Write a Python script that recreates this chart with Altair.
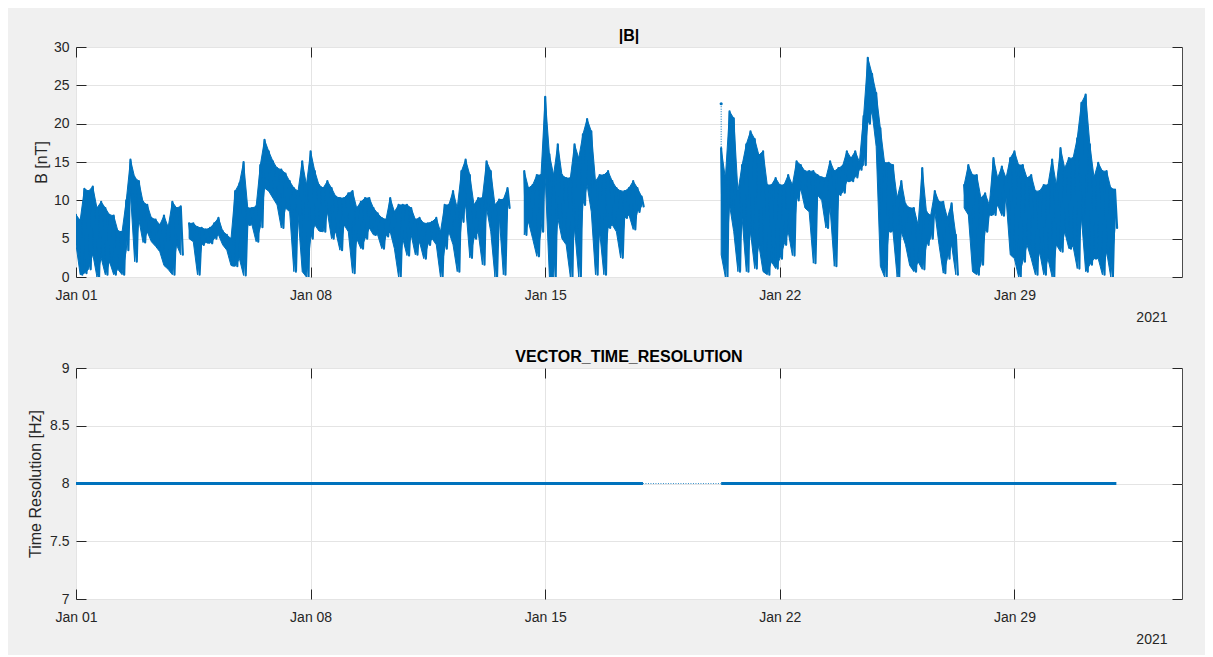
import altair as alt
import pandas as pd

BLUE = "#0072BD"
FONT = "Liberation Sans"
AX = "#262626"

# ---------------- data ----------------
# |B| envelope (upper / lower) every 3 hours starting 2021-01-01 00:00, one row per day
B_HI = [
    [8.1, 7.4, 11.5, 11.2, 11.8, 9.0, 9.8, 9.0],        # Jan 01
    [8.1, 8.0, 6.0, 5.9, 10.0, 15.3, 13.0, 12.5],       # Jan 02
    [9.8, 9.4, 7.7, 7.5, 6.8, 8.0, 6.5, 9.8],           # Jan 03
    [9.0, 9.2, None, 7.0, 7.0, 6.5, 6.4, 6.2],          # Jan 04
    [6.4, 7.0, 7.7, 6.0, 5.5, 5.0, 11.2, 12.2],         # Jan 05
    [15.0, 9.0, 9.0, 9.2, 14.6, 17.9, 16.4, 15.1],      # Jan 06
    [14.2, 14.0, 13.5, 12.5, 11.6, 11.2, 15.1, 12.0],   # Jan 07
    [16.4, 13.8, 12.0, 11.6, 12.5, 11.6, 10.5, 10.3],   # Jan 08
    [10.3, 10.9, 11.2, 9.0, 9.8, 10.3, 10.3, 9.0],      # Jan 09
    [8.3, 7.7, 7.5, 10.3, 8.5, 9.4, 9.4, 9.4],          # Jan 10
    [9.0, 7.5, 7.7, 7.0, 7.0, 7.2, 7.7, 5.9],           # Jan 11
    [9.4, 9.4, 11.2, 9.0, 13.8, 15.3, 13.3, 9.4],       # Jan 12
    [10.3, 10.3, 15.1, 13.8, 9.4, 10.1, 10.1, 11.6],    # Jan 13
    [None, None, None, 13.8, 11.6, 12.0, 13.3, 13.3],   # Jan 14
    [23.5, 16.0, 13.3, 17.3, 13.3, 12.9, 12.9, 17.3],   # Jan 15
    [15.5, 18.6, 20.6, 19.0, 12.5, 13.3, 13.3, 13.8],   # Jan 16
    [12.5, 11.6, 11.2, 11.2, 11.6, 12.5, 11.6, 10.5],   # Jan 17
    [None] * 8,                                         # Jan 18
    [None] * 8,                                         # Jan 19
    [None, None, 16.8, 12.9, 21.6, 20.7, 11.2, 14.6],   # Jan 20
    [17.3, 19.0, 18.0, 15.9, 16.4, 12.0, 12.0, 12.9],   # Jan 21
    [12.0, 12.0, 13.3, 12.0, 15.1, 14.6, 13.8, 13.8],   # Jan 22
    [13.8, 13.3, 13.0, 12.9, 15.1, 13.8, 14.2, 14.5],   # Jan 23
    [16.4, 15.5, 16.4, 15.0, 21.0, 28.6, 26.5, 24.0],   # Jan 24
    [19.4, 14.9, 14.9, 14.6, 10.3, 12.5, 9.5, 9.0],     # Jan 25
    [9.0, 6.8, 14.2, 8.5, 8.0, 11.2, 9.8, 9.8],         # Jan 26
    [7.7, 9.6, 5.5, None, 12.0, 14.6, 13.3, 13.3],      # Jan 27
    [10.3, 10.9, 9.4, 15.5, 12.9, 14.4, 12.9, 15.5],    # Jan 28
    [16.4, 14.6, 14.6, 12.9, 13.3, 11.2, 11.2, 12.0],   # Jan 29
    [12.0, 15.3, 12.0, 16.8, 14.2, 15.5, 15.5, 18.1],   # Jan 30
    [22.7, 23.8, 17.3, 13.0, 14.9, 13.8, 13.8, 11.6],   # Jan 31
    [11.4],                                             # Feb 01
]
B_LO = [
    [4.2, 0.3, 0.5, 1.0, 3.0, 0.0, 2.5, 0.3],
    [2.0, 0.3, 1.0, 0.3, 3.5, 11.0, 2.0, 7.5],
    [4.5, 5.9, 4.6, 4.0, 3.3, 1.5, 1.0, 0.3],
    [4.2, 2.9, None, 5.0, 4.6, 0.3, 4.2, 4.5],
    [4.4, 5.0, 5.5, 4.2, 3.5, 1.5, 1.4, 2.4],
    [0.2, 6.8, 6.8, 4.6, 6.5, 11.6, 11.2, 10.3],
    [9.4, 6.4, 9.0, 8.5, 0.7, 8.1, 0.7, 0.0],
    [5.0, 6.8, 6.0, 5.9, 8.5, 5.0, 5.9, 3.5],
    [6.8, 5.9, 0.5, 5.0, 3.7, 5.0, 6.4, 5.5],
    [5.5, 3.7, 5.3, 5.9, 3.7, 0.0, 5.0, 2.8],
    [5.5, 2.9, 4.6, 2.4, 4.2, 5.0, 4.2, 0.0],
    [3.7, 5.9, 4.2, 0.7, 7.2, 9.4, 2.5, 5.0],
    [5.9, 1.6, 9.0, 5.9, 0.0, 8.1, 0.3, 9.0],
    [None, None, None, 5.5, 7.2, 5.0, 2.7, 5.9],
    [13.0, 0.0, 0.0, 7.7, 5.0, 4.2, 0.0, 6.4],
    [0.0, 9.4, 12.0, 8.5, 0.3, 5.9, 0.3, 6.4],
    [6.8, 5.9, 2.5, 7.7, 8.1, 6.2, 8.5, 9.2],
    [None] * 8,
    [None] * 8,
    [None, None, 2.9, 0.0, 9.4, 5.9, 0.7, 7.7],
    [0.7, 5.9, 1.1, 4.2, 0.7, 0.3, 2.0, 1.1],
    [2.4, 4.2, 5.9, 2.8, 10.0, 11.5, 9.0, 8.5],
    [1.8, 10.7, 10.0, 6.4, 9.0, 1.4, 10.7, 11.0],
    [12.5, 12.5, 13.0, 14.0, 14.6, 20.0, 21.6, 17.0],
    [1.4, 0.0, 5.9, 6.0, 0.0, 5.9, 4.2, 1.5],
    [0.7, 2.0, 1.0, 4.2, 5.0, 8.5, 4.2, 0.5],
    [2.4, 4.2, 0.3, None, 9.0, 8.1, 0.7, 0.3],
    [1.6, 5.9, 8.1, 8.1, 9.4, 8.0, 10.3, 2.9],
    [2.4, 0.0, 2.0, 4.2, 2.4, 0.3, 3.3, 0.3],
    [2.4, 0.0, 4.2, 3.3, 5.9, 3.7, 4.0, 1.1],
    [7.7, 0.7, 1.6, 2.4, 2.4, 0.3, 3.3, 0.0],
    [6.4],
]
B_START = "2021-01-01 00:00:00"
B_STEP = "3h"
B_HALF = "90min"   # the lower value is drawn half a step after the upper one (zig-zag trace)

# isolated sample after the data gap (dotted drop line)
ISO_T = ["2021-01-20T06:00:00"]
ISO_TOP = [22.6]
ISO_BOTTOM = [16.8]

# vector time resolution
RES_START = ["2021-01-01T00:00:00", "2021-01-20T06:00:00"]
RES_END = ["2021-01-17T22:00:00", "2021-02-01T01:00:00"]
RES_VAL = [8, 8]
GAP_START = ["2021-01-17T22:00:00"]
GAP_END = ["2021-01-20T06:00:00"]
GAP_VAL = [8]

X_TICK_DAYS = [1, 8, 15, 22, 29]
B_TICKS = [0, 5, 10, 15, 20, 25, 30]
R_TICKS = [7, 7.5, 8, 8.5, 9]

# ---------------- tables ----------------
hi = [v for day in B_HI for v in day]
lo = [v for day in B_LO for v in day]
times = pd.date_range(B_START, periods=len(hi), freq=B_STEP)
half = pd.Timedelta(B_HALF)
FMT = "%Y-%m-%dT%H:%M:%S"
env_rows, zig_rows, seg, broken = [], [], 0, True
for t, h, l in zip(times, hi, lo):
    if h is None or l is None:
        broken = True
        continue
    if broken:
        seg += 1
        broken = False
    env_rows.append({"t": t.strftime(FMT), "hi": h, "lo": l, "seg": seg})
    zig_rows.append({"t": t.strftime(FMT), "v": h, "seg": seg})
    zig_rows.append({"t": (t + half).strftime(FMT), "v": l, "seg": seg})
df_env = pd.DataFrame(env_rows)
df_zig = pd.DataFrame(zig_rows)
df_iso = pd.DataFrame({"t": ISO_T, "top": ISO_TOP, "bottom": ISO_BOTTOM})
df_res = pd.DataFrame({"start": RES_START, "end": RES_END, "val": RES_VAL})
df_gap = pd.DataFrame({"start": GAP_START, "end": GAP_END, "val": GAP_VAL})

W = 1106
H_TOP = 230
H_BOT = 231
TICK = 10

x_scale = alt.Scale(
    domain=[alt.DateTime(year=2021, month=1, date=1), alt.DateTime(year=2021, month=2, date=3)],
    nice=False,
)
x_vals = [alt.DateTime(year=2021, month=1, date=d) for d in X_TICK_DAYS]


def x_bottom():
    return alt.Axis(
        orient="bottom", values=x_vals, format="%b %d", formatType="time",
        labelFontSize=14, labelPadding=11, labelFlush=False, labelOverlap=False,
        tickSize=TICK, offset=-TICK, domain=False, grid=True,
        title="2021", titleFontSize=14, titleFontWeight="normal",
        titleX=W - 15, titleY=TICK + 44, titleAlign="right", titleBaseline="alphabetic",
    )


def x_top():
    return alt.Axis(
        orient="top", values=x_vals, labels=False, tickSize=TICK, offset=-TICK,
        domain=False, grid=False, title=None,
    )


def y_left(values, title, tx, expr=None):
    kw = dict(
        orient="left", values=values, labelFontSize=14, labelPadding=7,
        tickSize=TICK, offset=-TICK, domain=False, grid=True,
        title=title, titleFontSize=16, titleFontWeight="normal",
        titleX=tx, titleBaseline="middle", titleAngle=270,
    )
    if expr:
        kw["labelExpr"] = expr
    return alt.Axis(**kw)


def y_right(values):
    return alt.Axis(
        orient="right", values=values, labels=False, tickSize=TICK, offset=-TICK,
        domain=False, grid=False, title=None,
    )


# ---------------- top panel: |B| ----------------
b_y = alt.Scale(domain=[0, 30], nice=False, zero=False)
area = alt.Chart(df_env).mark_area(
    interpolate="linear", color=BLUE, stroke=BLUE, strokeWidth=1, opacity=1, clip=True
).encode(
    x=alt.X("t:T", scale=x_scale, axis=x_bottom()),
    y=alt.Y("lo:Q", scale=b_y, axis=y_left(B_TICKS, "B [nT]", -(35 + TICK))),
    y2="hi:Q",
    detail="seg:N",
)
zig = alt.Chart(df_zig).mark_line(
    color=BLUE, strokeWidth=2.2, strokeJoin="round", strokeCap="round", clip=True
).encode(
    x=alt.X("t:T", scale=x_scale, axis=None),
    y=alt.Y("v:Q", scale=b_y, axis=None),
    detail="seg:N",
)
drop = alt.Chart(df_iso).mark_rule(color=BLUE, strokeWidth=1, strokeDash=[1, 1.5]).encode(
    x=alt.X("t:T", scale=x_scale, axis=x_top()),
    y=alt.Y("top:Q", scale=b_y, axis=y_right(B_TICKS)),
    y2="bottom:Q",
)
dot = alt.Chart(df_iso).mark_circle(color=BLUE, size=10, opacity=1).encode(
    x=alt.X("t:T", scale=x_scale, axis=None),
    y=alt.Y("top:Q", scale=b_y, axis=None),
)
top = alt.layer(area, drop, zig, dot).resolve_axis(x="independent", y="independent").properties(
    width=W, height=H_TOP, title=alt.TitleParams("|B|")
)

# ---------------- bottom panel: time resolution ----------------
r_y = alt.Scale(domain=[7, 9], nice=False, zero=False)
res = alt.Chart(df_res).mark_rule(color=BLUE, strokeWidth=3).encode(
    x=alt.X("start:T", scale=x_scale, axis=x_bottom()),
    x2="end:T",
    y=alt.Y("val:Q", scale=r_y,
            axis=y_left(R_TICKS, "Time Resolution [Hz]", -(41 + TICK), "datum.value + ''")),
)
gap = alt.Chart(df_gap).mark_rule(color=BLUE, strokeWidth=0.8, strokeDash=[1, 1.5]).encode(
    x=alt.X("start:T", scale=x_scale, axis=x_top()),
    x2="end:T",
    y=alt.Y("val:Q", scale=r_y, axis=y_right(R_TICKS)),
)
bottom = alt.layer(res, gap).resolve_axis(x="independent", y="independent").properties(
    width=W, height=H_BOT, title=alt.TitleParams("VECTOR_TIME_RESOLUTION")
)

chart = alt.vconcat(
    top, bottom, spacing=91, bounds="flush",
    padding={"left": 18, "top": 19, "right": 22, "bottom": 8},
).configure(
    background="#f0f0f0", font=FONT,
).configure_view(
    fill="white", stroke="#4d4d4d", strokeWidth=1,
).configure_axis(
    labelColor=AX, titleColor=AX, tickColor=AX, tickWidth=1,
    gridColor="#e4e4e4", gridWidth=1, labelFont=FONT, titleFont=FONT,
).configure_title(
    font=FONT, fontSize=16, fontWeight="bold", color="#000000", anchor="middle", offset=-3.5,
)

chart.save("out.html", embed_options={"renderer": "svg", "actions": False})
